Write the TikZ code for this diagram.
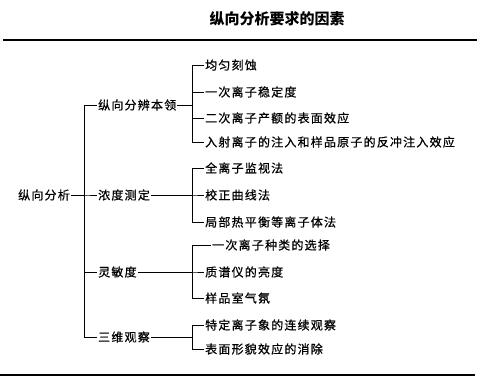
\documentclass[tikz,border=0pt]{standalone}
\usepackage{fontspec}
\newfontfamily\cjk[LetterSpace=10,FakeBold=0.6]{Noto Sans CJK SC}
\newfontfamily\cjktitle{Noto Sans CJK SC}
\begin{document}
\begin{tikzpicture}[x=1pt,y=-1pt,
  item/.style={anchor=west,inner sep=1pt,font=\cjk\fontsize{12}{13}\selectfont},
  link/.style={line width=0.7pt},
  rule/.style={line width=1.6pt}]
\useasboundingbox (0,0) rectangle (478,385);
\node[font=\cjktitle\bfseries\fontsize{15}{17}\selectfont] (title) at (277,19) {纵向分析要求的因素};
\coordinate (tl) at (3,40);
\coordinate (tr) at (477,40);
\coordinate (bl) at (0,375);
\coordinate (br) at (475,375);
\draw[rule] (tl) -- (tr);
\draw[rule] (bl) -- (br);
\coordinate (b0) at (84,0);
\coordinate (b1) at (192,0);
\node[item] (root) at (17,195) {纵向分析};
\node[item] (res) at (97,105) {纵向分辨本领};
\node[item] (conc) at (97,195) {浓度测定};
\node[item] (sens) at (97,272) {灵敏度};
\node[item] (three) at (97,337) {三维观察};
\node[item] (r1) at (204,65) {均匀刻蚀};
\node[item] (r2) at (204,92) {一次离子稳定度};
\node[item] (r3) at (204,118) {二次离子产额的表面效应};
\node[item] (r4) at (204,142) {入射离子的注入和样品原子的反冲注入效应};
\node[item] (c1) at (204,168) {全离子监视法};
\node[item] (c2) at (204,195) {校正曲线法};
\node[item] (c3) at (204,222) {局部热平衡等离子体法};
\node[item] (s1) at (211,245) {一次离子种类的选择};
\node[item] (s2) at (204,272) {质谱仪的亮度};
\node[item] (s3) at (204,298) {样品室气氛};
\node[item] (t1) at (204,325) {特定离子象的连续观察};
\node[item] (t2) at (204,349) {表面形貌效应的消除};
\foreach \c in {res,conc,sens,three}
  \draw[link] (root.east) -- (root.east -| b0) |- (\c.west);
\foreach \p/\c in {res/r1,res/r2,res/r3,res/r4,conc/c1,conc/c2,conc/c3,
  sens/s1,sens/s2,sens/s3,three/t1,three/t2}
  \draw[link] (\p.east) -- (\p.east -| b1) |- (\c.west);
\end{tikzpicture}
\end{document}
